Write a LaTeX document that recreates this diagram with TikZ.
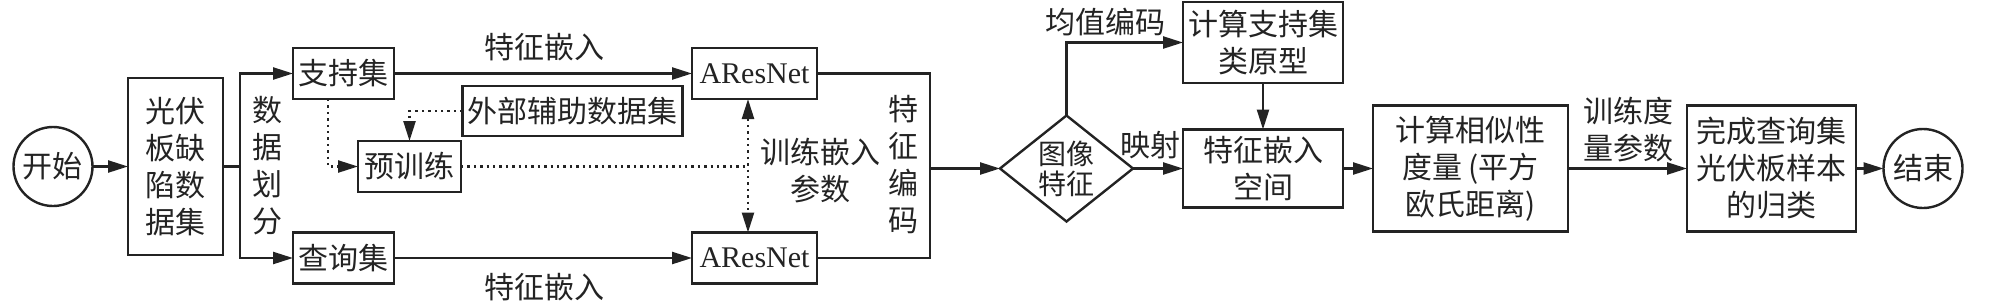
\documentclass[tikz,border=0pt]{standalone}
\usepackage{fontspec}
\setmainfont{Liberation Serif}
\newfontfamily\cjk{Noto Sans CJK SC}
\usetikzlibrary{arrows.meta,shapes.geometric}
\definecolor{ink}{RGB}{35,35,35}
\begin{document}
\begin{tikzpicture}[x=.5pt,y=-.5pt,
  >={Triangle[length=10pt,width=6pt]},
  line/.style={draw=ink,line width=1.2pt},
  arr/.style={line,->},
  dots/.style={draw=ink,line width=1.2pt,dotted},
  box/.style={line,rectangle,inner sep=0pt,outer sep=0pt,align=center,text=ink,font=\cjk\fontsize{15}{18.5}\selectfont},
  circ/.style={line,circle,inner sep=0pt,outer sep=0pt,minimum size=39.5pt,text=ink,font=\cjk\fontsize{15}{18.5}\selectfont},
  dia/.style={line,diamond,inner sep=-6pt,outer sep=0pt,minimum width=66.5pt,minimum height=53pt,align=center,text=ink,font=\cjk\fontsize{14}{15}\selectfont},
  lbl/.style={inner sep=0pt,outer sep=0pt,align=center,text=ink,font=\cjk\fontsize{15}{18.5}\selectfont}]
\path[use as bounding box] (0,0) rectangle (2008,301);
% left part
\node[circ] (start) at (53,166.5) {开始};
\node[box,minimum width=47.5pt,minimum height=88.5pt] (data) at (175.5,166.5) {光伏\\板缺\\陷数\\据集};
\node[box,minimum width=50.5pt,minimum height=25.5pt] (support) at (343.5,73.5) {支持集};
\node[box,minimum width=50.5pt,minimum height=25.5pt] (query) at (343.5,258) {查询集};
\node[box,minimum width=51.5pt,minimum height=25.5pt] (pretrain) at (409.5,166.5) {预训练};
\node[box,minimum width=110pt,minimum height=25pt] (aux) at (572.5,111) {外部辅助数据集};
\node[box,minimum width=62.5pt,minimum height=25.5pt,font=\fontsize{15}{18}\selectfont] (netS) at (754.5,73.5) {AResNet};
\node[box,minimum width=62.5pt,minimum height=25.5pt,font=\fontsize{15}{18}\selectfont] (netQ) at (754.5,258) {AResNet};
% right part
\node[dia] (feat) at (1066.5,168.5) {图像\\特征};
\node[box,minimum width=80pt,minimum height=40.5pt] (proto) at (1263,42.5) {计算支持集\\类原型};
\node[box,minimum width=80pt,minimum height=39pt] (space) at (1263,168.5) {特征嵌入\\空间};
\node[box,minimum width=97.5pt,minimum height=63pt] (metric) at (1470.5,168.5) {计算相似性\\度量 (平方\\欧氏距离)};
\node[box,minimum width=84.5pt,minimum height=63pt] (result) at (1771.5,168.5) {完成查询集\\光伏板样本\\的归类};
\node[circ] (stop) at (1923,168.5) {结束};
% labels
\node[lbl] (splitLbl) at (267,166) {数\\据\\划\\分};
\node[lbl] (embS) at (544,47) {特征嵌入};
\node[lbl] (embQ) at (544,287) {特征嵌入};
\node[lbl] (trainP) at (820,171) {训练嵌入\\参数};
\node[lbl] (encLbl) at (903,165) {特\\征\\编\\码};
\node[lbl] (meanLbl) at (1105,22) {均值编码};
\node[lbl] (mapLbl) at (1150,145) {映射};
\node[lbl] (trainM) at (1628,130) {训练度\\量参数};
% connectors
\coordinate (split) at (240,166.5);
\coordinate (merge) at (930,168.5);
\coordinate (tS) at ([xshift=-3.25pt]netS.south);
\coordinate (tQ) at ([xshift=-3.25pt]netQ.north);
\draw[arr] (start.east) -- (data.west);
\draw[arr] (data.east) -- (split) |- (support.west);
\draw[arr] (split) |- (query.west);
\draw[arr] (support.east) -- (netS.west);
\draw[arr] (query.east) -- (netQ.west);
\draw[dots,->] ([xshift=-7.75pt]support.south) |- (pretrain.west);
\draw[dots,->] (aux.west) -| (pretrain.north);
\draw[dots] (pretrain.east) -- (pretrain.east -| tS);
\draw[dots,<->] (tS) -- (tQ);
\draw[line] (netS.east) -| (merge) |- (netQ.east);
\draw[arr] (merge) -- (feat.west);
\draw[arr] (feat.north) |- (proto.west);
\draw[arr] (feat.east) -- (space.west);
\draw[arr] (proto.south) -- (space.north);
\draw[arr] (space.east) -- (metric.west);
\draw[arr] (metric.east) -- (result.west);
\draw[arr] (result.east) -- (stop.west);
\end{tikzpicture}
\end{document}
